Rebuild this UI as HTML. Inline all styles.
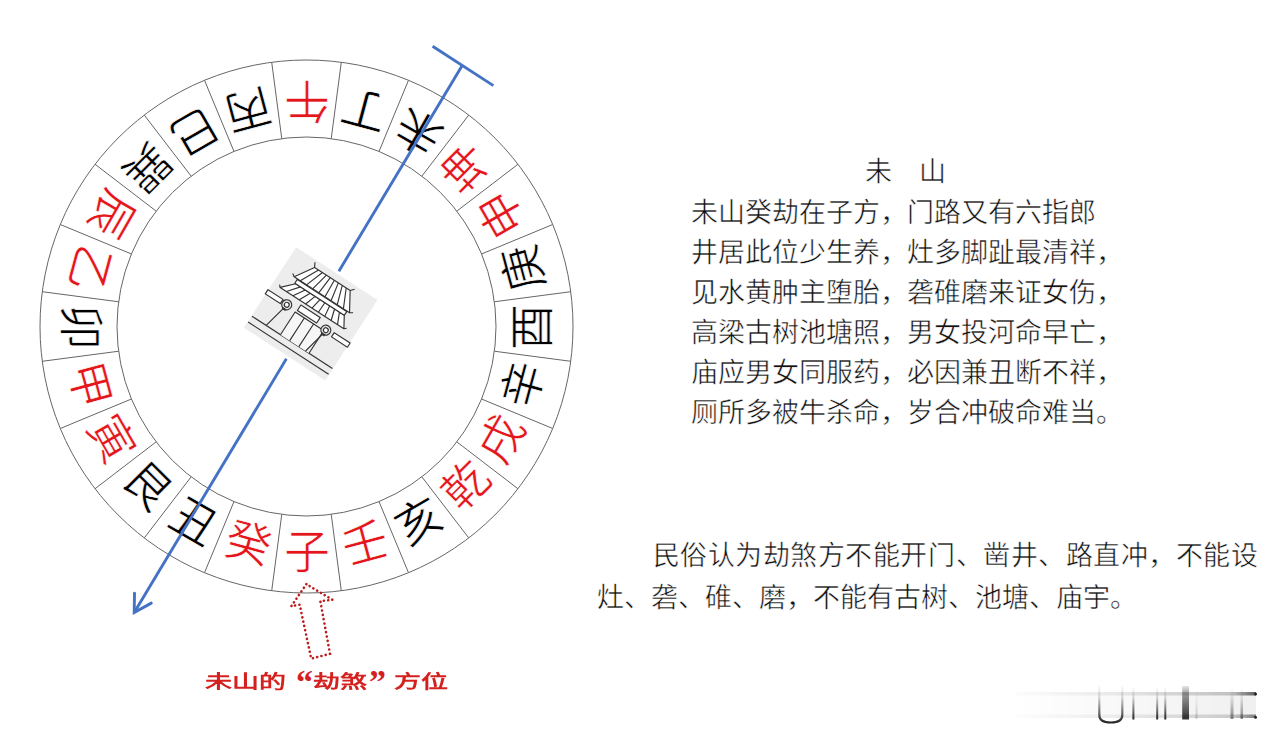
<!DOCTYPE html>
<html lang="zh-CN">
<head>
<meta charset="utf-8">
<style>
html,body{margin:0;padding:0;background:#fff;}
body{width:1280px;height:743px;position:relative;overflow:hidden;font-family:"Liberation Serif",serif;color:#111;}
svg.main{position:absolute;left:0;top:0;}
.t{position:absolute;font-size:27px;line-height:40px;white-space:pre;color:#111;-webkit-text-stroke:0.5px #fff;}
.cap{position:absolute;left:204.8px;top:672px;width:250px;height:30px;font-family:"Liberation Sans",sans-serif;font-weight:bold;color:#d4201e;font-size:27px;line-height:30px;white-space:pre;transform:scaleY(0.68);transform-origin:0 0;}
.cap span{position:absolute;top:0;}
.qt{position:absolute;font-family:"Liberation Serif",serif;font-weight:bold;color:#d4201e;font-size:34px;line-height:40px;}

</style>
</head>
<body>
<svg class="main" width="1280" height="743" viewBox="0 0 1280 743" font-family="Liberation Serif, serif">
<g id="wheel">
<circle cx="306.5" cy="326.5" r="266.5" fill="none" stroke="#666" stroke-width="1"/>
<circle cx="306.5" cy="326.5" r="189.5" fill="none" stroke="#666" stroke-width="1"/>
<line x1="281.77" y1="514.38" x2="271.71" y2="590.72" stroke="#666" stroke-width="1"/>
<line x1="233.98" y1="501.58" x2="204.51" y2="572.71" stroke="#666" stroke-width="1"/>
<line x1="191.14" y1="476.84" x2="144.27" y2="537.93" stroke="#666" stroke-width="1"/>
<line x1="156.16" y1="441.86" x2="95.07" y2="488.73" stroke="#666" stroke-width="1"/>
<line x1="131.42" y1="399.02" x2="60.29" y2="428.49" stroke="#666" stroke-width="1"/>
<line x1="118.62" y1="351.23" x2="42.28" y2="361.29" stroke="#666" stroke-width="1"/>
<line x1="118.62" y1="301.77" x2="42.28" y2="291.71" stroke="#666" stroke-width="1"/>
<line x1="131.42" y1="253.98" x2="60.29" y2="224.51" stroke="#666" stroke-width="1"/>
<line x1="156.16" y1="211.14" x2="95.07" y2="164.27" stroke="#666" stroke-width="1"/>
<line x1="191.14" y1="176.16" x2="144.27" y2="115.07" stroke="#666" stroke-width="1"/>
<line x1="233.98" y1="151.42" x2="204.51" y2="80.29" stroke="#666" stroke-width="1"/>
<line x1="281.77" y1="138.62" x2="271.71" y2="62.28" stroke="#666" stroke-width="1"/>
<line x1="331.23" y1="138.62" x2="341.29" y2="62.28" stroke="#666" stroke-width="1"/>
<line x1="379.02" y1="151.42" x2="408.49" y2="80.29" stroke="#666" stroke-width="1"/>
<line x1="421.86" y1="176.16" x2="468.73" y2="115.07" stroke="#666" stroke-width="1"/>
<line x1="456.84" y1="211.14" x2="517.93" y2="164.27" stroke="#666" stroke-width="1"/>
<line x1="481.58" y1="253.98" x2="552.71" y2="224.51" stroke="#666" stroke-width="1"/>
<line x1="494.38" y1="301.77" x2="570.72" y2="291.71" stroke="#666" stroke-width="1"/>
<line x1="494.38" y1="351.23" x2="570.72" y2="361.29" stroke="#666" stroke-width="1"/>
<line x1="481.58" y1="399.02" x2="552.71" y2="428.49" stroke="#666" stroke-width="1"/>
<line x1="456.84" y1="441.86" x2="517.93" y2="488.73" stroke="#666" stroke-width="1"/>
<line x1="421.86" y1="476.84" x2="468.73" y2="537.93" stroke="#666" stroke-width="1"/>
<line x1="379.02" y1="501.58" x2="408.49" y2="572.71" stroke="#666" stroke-width="1"/>
<line x1="331.23" y1="514.38" x2="341.29" y2="590.72" stroke="#666" stroke-width="1"/>
<g transform="translate(306.50,554.50) rotate(0)"><text x="0" y="-3" dy="0.35em" text-anchor="middle" fill="#e4161c" stroke="#fff" stroke-width="0.7" font-size="46">子</text></g>
<g transform="translate(247.49,546.73) rotate(15)"><text x="0" y="-3" dy="0.35em" text-anchor="middle" fill="#e4161c" stroke="#fff" stroke-width="0.7" font-size="46">癸</text></g>
<g transform="translate(192.50,523.95) rotate(30)"><text x="0" y="-3" dy="0.35em" text-anchor="middle" fill="#000" stroke="#fff" stroke-width="0.7" font-size="46">丑</text></g>
<g transform="translate(145.28,487.72) rotate(45)"><text x="0" y="-3" dy="0.35em" text-anchor="middle" fill="#000" stroke="#fff" stroke-width="0.7" font-size="46">艮</text></g>
<g transform="translate(109.05,440.50) rotate(60)"><text x="0" y="-3" dy="0.35em" text-anchor="middle" fill="#e4161c" stroke="#fff" stroke-width="0.7" font-size="46">寅</text></g>
<g transform="translate(86.27,385.51) rotate(75)"><text x="0" y="-3" dy="0.35em" text-anchor="middle" fill="#e4161c" stroke="#fff" stroke-width="0.7" font-size="46">甲</text></g>
<g transform="translate(78.50,326.50) rotate(90)"><text x="0" y="-3" dy="0.35em" text-anchor="middle" fill="#000" stroke="#fff" stroke-width="0.7" font-size="46">卯</text></g>
<g transform="translate(86.27,267.49) rotate(105)"><text x="0" y="-3" dy="0.35em" text-anchor="middle" fill="#e4161c" stroke="#fff" stroke-width="0.7" font-size="46">乙</text></g>
<g transform="translate(109.05,212.50) rotate(120)"><text x="0" y="-3" dy="0.35em" text-anchor="middle" fill="#e4161c" stroke="#fff" stroke-width="0.7" font-size="46">辰</text></g>
<g transform="translate(145.28,165.28) rotate(135)"><text x="0" y="-3" dy="0.35em" text-anchor="middle" fill="#000" stroke="#fff" stroke-width="0.7" font-size="46">巽</text></g>
<g transform="translate(192.50,129.05) rotate(150)"><text x="0" y="-3" dy="0.35em" text-anchor="middle" fill="#000" stroke="#fff" stroke-width="0.7" font-size="46">巳</text></g>
<g transform="translate(247.49,106.27) rotate(165)"><text x="0" y="-3" dy="0.35em" text-anchor="middle" fill="#000" stroke="#fff" stroke-width="0.7" font-size="46">丙</text></g>
<g transform="translate(306.50,98.50) rotate(180)"><text x="0" y="-3" dy="0.35em" text-anchor="middle" fill="#e4161c" stroke="#fff" stroke-width="0.7" font-size="46">午</text></g>
<g transform="translate(365.51,106.27) rotate(195)"><text x="0" y="-3" dy="0.35em" text-anchor="middle" fill="#000" stroke="#fff" stroke-width="0.7" font-size="46">丁</text></g>
<g transform="translate(420.50,129.05) rotate(210)"><text x="0" y="-3" dy="0.35em" text-anchor="middle" fill="#000" stroke="#fff" stroke-width="0.7" font-size="46">未</text></g>
<g transform="translate(467.72,165.28) rotate(225)"><text x="0" y="-3" dy="0.35em" text-anchor="middle" fill="#e4161c" stroke="#fff" stroke-width="0.7" font-size="46">坤</text></g>
<g transform="translate(503.95,212.50) rotate(240)"><text x="0" y="-3" dy="0.35em" text-anchor="middle" fill="#e4161c" stroke="#fff" stroke-width="0.7" font-size="46">申</text></g>
<g transform="translate(526.73,267.49) rotate(255)"><text x="0" y="-3" dy="0.35em" text-anchor="middle" fill="#000" stroke="#fff" stroke-width="0.7" font-size="46">庚</text></g>
<g transform="translate(534.50,326.50) rotate(270)"><text x="0" y="-3" dy="0.35em" text-anchor="middle" fill="#000" stroke="#fff" stroke-width="0.7" font-size="46">酉</text></g>
<g transform="translate(526.73,385.51) rotate(285)"><text x="0" y="-3" dy="0.35em" text-anchor="middle" fill="#000" stroke="#fff" stroke-width="0.7" font-size="46">辛</text></g>
<g transform="translate(503.95,440.50) rotate(300)"><text x="0" y="-3" dy="0.35em" text-anchor="middle" fill="#e4161c" stroke="#fff" stroke-width="0.7" font-size="46">戌</text></g>
<g transform="translate(467.72,487.72) rotate(315)"><text x="0" y="-3" dy="0.35em" text-anchor="middle" fill="#e4161c" stroke="#fff" stroke-width="0.7" font-size="46">乾</text></g>
<g transform="translate(420.50,523.95) rotate(330)"><text x="0" y="-3" dy="0.35em" text-anchor="middle" fill="#000" stroke="#fff" stroke-width="0.7" font-size="46">亥</text></g>
<g transform="translate(365.51,546.73) rotate(345)"><text x="0" y="-3" dy="0.35em" text-anchor="middle" fill="#e4161c" stroke="#fff" stroke-width="0.7" font-size="46">壬</text></g>
</g>
<g id="blue">
<line x1="462.20" y1="65.50" x2="134.97" y2="611.31" stroke="#4472c4" stroke-width="2.9"/>
<line x1="432.6" y1="46.3" x2="493.4" y2="85.6" stroke="#4472c4" stroke-width="2.9"/>
<path d="M151.25 603.13 L134.20 612.60 L134.52 593.10" fill="none" stroke="#4472c4" stroke-width="2.9" stroke-linejoin="miter" stroke-linecap="round"/>
</g>
<g id="img" transform="translate(310.7,313.8) rotate(33)">
<rect x="-51" y="-51" width="102" height="102" fill="#fff"/>
<rect x="-48.5" y="-48" width="97" height="96" fill="#ededed"/>
<g fill="none" stroke="#333" stroke-width="1.15" stroke-linejoin="round">
<line x1="-48" y1="34" x2="48" y2="34"/>
<line x1="-48" y1="41" x2="48" y2="41"/>
<rect x="-49" y="3" width="18" height="5" fill="#fff"/>
<rect x="30" y="3" width="19" height="5" fill="#fff"/>
<path d="M-14 34 L-14 7 L20 7 L20 34 M-3 7 L-3 34 M8 7 L8 34" fill="#f6f6f6"/>
<rect x="-13" y="-2" width="23" height="6.5" fill="#fff"/>
<path d="M-26 11 L-31 34 M21 11 L16 34"/>
<path d="M-29 -17 L29 -17 L36 -5.5 L-40 -5.5 Z" fill="#fff"/>
<path d="M-23.2 -17 L-32.4 -5.5 M-17.4 -17 L-24.8 -5.5 M-11.6 -17 L-17.2 -5.5 M-5.8 -17 L-9.6 -5.5 M0.0 -17 L-2.0 -5.5 M5.8 -17 L5.6 -5.5 M11.6 -17 L13.2 -5.5 M17.4 -17 L20.8 -5.5 M23.2 -17 L28.4 -5.5 "/>
<path d="M-40 -5.5 L-42 -7.5 M36 -5.5 L38 -7.5"/>
<rect x="-30" y="-21.5" width="59" height="4.5" fill="#fff"/>
<path d="M-22 -41 L20.4 -41 L32 -22 L-34 -22 Z" fill="#fff"/>
<path d="M-17.3 -41 L-26.7 -22 M-12.6 -41 L-19.3 -22 M-7.9 -41 L-12.0 -22 M-3.2 -41 L-4.7 -22 M1.6 -41 L2.7 -22 M6.3 -41 L10.0 -22 M11.0 -41 L17.3 -22 M15.7 -41 L24.7 -22 "/>
<path d="M-22 -41 L-24.5 -45.5 M20.4 -41 L23.5 -44.5 M-34 -22 L-37 -24 M32 -22 L35 -24"/>
<circle cx="-25" cy="5.5" r="5" fill="#e4e4e4"/>
<circle cx="-25" cy="5.5" r="2.4" fill="#fff"/>
<circle cx="21.6" cy="5.5" r="5" fill="#e4e4e4"/>
<circle cx="21.6" cy="5.5" r="2.4" fill="#fff"/>
<path d="M-27 10.5 L-23 10.5 M19.6 10.5 L23.6 10.5" stroke-width="2.2"/>
</g>
</g>
<g id="wm">
<defs>
<linearGradient id="vg" x1="0" y1="0" x2="0" y2="1"><stop offset="0" stop-color="#000" stop-opacity="0"/><stop offset="0.35" stop-color="#000" stop-opacity="0.15"/><stop offset="1" stop-color="#000" stop-opacity="0.85"/></linearGradient>
<linearGradient id="vg2" x1="0" y1="0" x2="0" y2="1"><stop offset="0" stop-color="#000" stop-opacity="0"/><stop offset="0.4" stop-color="#000" stop-opacity="0.12"/><stop offset="1" stop-color="#000" stop-opacity="0.45"/></linearGradient>
<linearGradient id="hg" x1="0" y1="0" x2="1" y2="0"><stop offset="0" stop-color="#000" stop-opacity="0.01"/><stop offset="0.4" stop-color="#000" stop-opacity="0.06"/><stop offset="0.9" stop-color="#000" stop-opacity="0.2"/><stop offset="1" stop-color="#000" stop-opacity="0.6"/></linearGradient>
<linearGradient id="hg0" x1="0" y1="0" x2="1" y2="0"><stop offset="0" stop-color="#000" stop-opacity="0"/><stop offset="1" stop-color="#000" stop-opacity="0.06"/></linearGradient>
<filter id="bl" x="-20%" y="-20%" width="140%" height="140%"><feGaussianBlur stdDeviation="0.6"/></filter>
</defs>
<g filter="url(#bl)">
<rect x="1015" y="692" width="241" height="26" fill="url(#hg0)"/>
<rect x="1015" y="692" width="241" height="3.5" fill="url(#hg)"/>
<rect x="1015" y="714.5" width="241" height="3.5" fill="url(#hg)" opacity="0.8"/>
<path d="M1099.3 684 L1099.3 715 Q1099.3 722.5 1110.8 722.5 Q1122.3 722.5 1122.3 715 L1122.3 684" fill="none" stroke="url(#vg)" stroke-width="2.2"/>
<rect x="1132.4" y="686" width="2" height="33.5" fill="url(#vg)"/>
<rect x="1156.2" y="686" width="2" height="33.5" fill="url(#vg)"/>
<rect x="1164.3" y="686" width="2" height="33.5" fill="url(#vg)"/>
<linearGradient id="vg3" x1="0" y1="0" x2="0" y2="1"><stop offset="0" stop-color="#000" stop-opacity="0.1"/><stop offset="0.2" stop-color="#000" stop-opacity="0.35"/><stop offset="1" stop-color="#000" stop-opacity="0.8"/></linearGradient>
<rect x="1182.2" y="686" width="6.8" height="33.5" fill="url(#vg3)"/>
<rect x="1195.5" y="690" width="2" height="29" fill="url(#vg2)" opacity="0.4"/>
<rect x="1230.5" y="688" width="3" height="31" fill="url(#vg2)"/>
<rect x="1240.5" y="688" width="2.5" height="31" fill="url(#vg2)"/>
<circle cx="1255.5" cy="694" r="1.5" fill="#222"/>
<circle cx="1255.5" cy="717.3" r="1.5" fill="#222"/>
</g>
</g>
<!-- red dotted arrow -->
<path d="M306.4 584.1 L291.2 606.3 L299.7 604.7 L311.2 658.6 L330 653.8 L320.3 601.1 L332.4 599.8 Z" fill="none" stroke="#bc1c1c" stroke-width="2.6" stroke-dasharray="0.1 4.3" stroke-linecap="round"/>
</svg>

<div class="t" style="left:865px;top:152px;">未　山</div>
<div class="t" style="left:691px;top:193px;">未山癸劫在子方，门路又有六指郎
井居此位少生养，灶多脚趾最清祥，
见水黄肿主堕胎，砻碓磨来证女伤，
高梁古树池塘照，男女投河命早亡，
庙应男女同服药，必因兼丑断不祥，
厕所多被牛杀命，岁合冲破命难当。</div>
<div class="t" style="left:652.5px;top:534.5px;line-height:42px;letter-spacing:0.55px;">民俗认为劫煞方不能开门、凿井、路直冲，不能设</div>
<div class="t" style="left:596.5px;top:576.5px;line-height:42px;">灶、砻、碓、磨，不能有古树、池塘、庙宇。</div>

<div class="cap"><span style="left:0">未</span><span style="left:27px">山</span><span style="left:54px">的</span><span style="left:108px">劫</span><span style="left:135px">煞</span><span style="left:189px">方</span><span style="left:216px">位</span></div>

<div class="qt" style="left:296px;top:662px;">“</div><div class="qt" style="left:369px;top:662px;">”</div>
</body>
</html>
